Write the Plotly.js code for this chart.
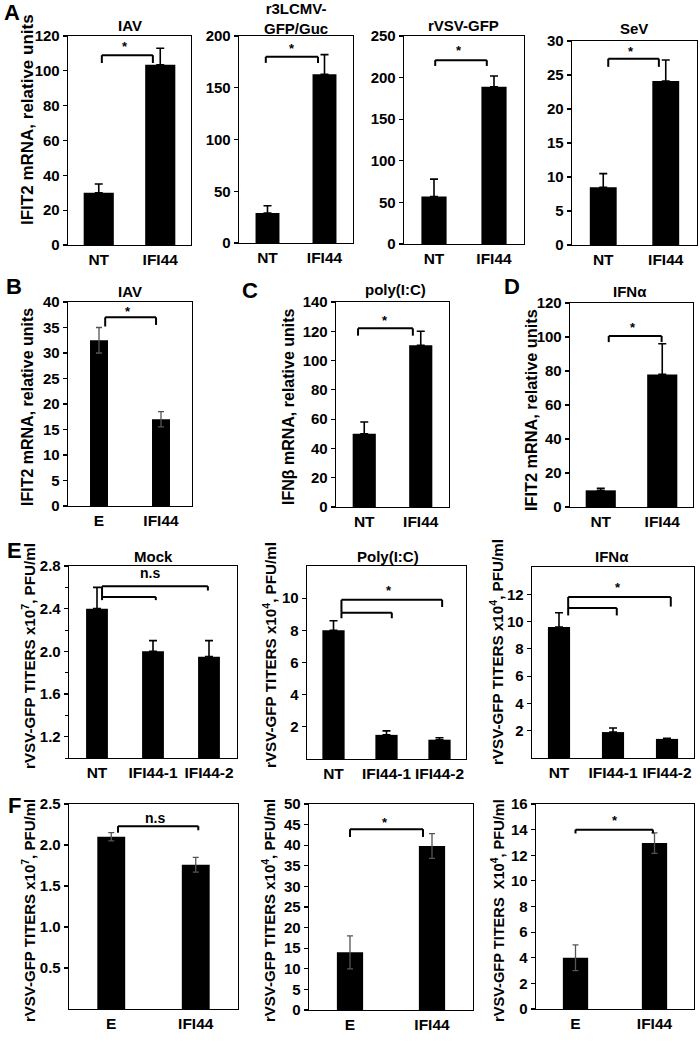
<!DOCTYPE html>
<html><head><meta charset="utf-8">
<script src="https://cdn.plot.ly/plotly-3.0.1.min.js"></script>
<style>html,body{margin:0;padding:0;background:#fff}#chart{width:700px;height:1063px}</style>
</head><body><div id="chart"></div>
<script>
const W = 700, H = 1063;
const FONT = 'Liberation Sans, Arial, Helvetica, sans-serif';

// ---- categories ----
const catsNT = ['NT', 'IFI44'];
const catsE = ['E', 'IFI44'];
const catsNT3 = ['NT', 'IFI44-1', 'IFI44-2'];

// ---- values (means) and error bars ----
const aIAV = [30, 103.5], aIAVErr = [5, 9.5];
const aLCMV = [29, 163], aLCMVErr = [7, 19];
const aVSV = [57, 189], aVSVErr = [21, 13];
const aSeV = [8.5, 24.1], aSeVErr = [2, 3.1];
const bIAV = [32.5, 17], bIAVErr = [2.5, 1.5];
const cPIC = [50, 110.5], cPICErr = [8, 9.5];
const dIFN = [9.8, 78], dIFNErr = [1.2, 18];
const eMock = [2.4, 2.0, 1.95], eMockErr = [0.2, 0.1, 0.15];
const ePIC = [8.0, 1.5, 1.2], ePICErr = [0.6, 0.25, 0.12];
const eIFN = [9.6, 1.9, 1.4], eIFNErr = [1.05, 0.3, 0.05];
const fMock = [2.1, 1.76], fMockErr = [0.05, 0.09];
const fPIC = [14, 39.8], fPICErr = [4, 3];
const fIFN = [4.0, 12.95], fIFNErr = [1, 0.8];

// ---- tick labels ----
const ticksE1 = [1.2, 1.6, 2.0, 2.4, 2.8], ticksE1Text = ['1.2', '1.6', '2.0', '2.4', '2.8'];
const ticksE2 = [2, 4, 6, 8, 10];
const ticksE3 = [2, 4, 6, 8, 10, 12];
const ticksF1 = [0.5, 1.0, 1.5, 2.0, 2.5], ticksF1Text = ['0.5', '1.0', '1.5', '2.0', '2.5'];

// ---- axis titles ----
const yT1 = 'IFIT2 mRNA, relative units';
const yTb = 'IFN\u03b2 mRNA, relative units';
const yT7 = 'rVSV-GFP TITERS x10<sup>7</sup>, PFU/ml';
const yT4 = 'rVSV-GFP TITERS x10<sup>4</sup>, PFU/ml';
const yT4b = 'rVSV-GFP TITERS  X10<sup>4</sup>, PFU/ml';

// ---- panel layout (pixel frames, title positions) ----
const panels = [
  {cats: catsNT, v: aIAV, e: aIAVErr, fr: [68,191,36,245], yr: [0,120], dt: 20, bw: 0.49, t: 'IAV', tp: [130,26], yt: yT1, ytp: [27,120], ys: 17,
   br: [[0.05,0.88,109,104.5,104.5]], sig: '*', sp: [0.43,114]},
  {cats: catsNT, v: aLCMV, e: aLCMVErr, fr: [239,353,36,243], yr: [0,200], dt: 50, bw: 0.42, t: 'r3LCMV-<br>GFP/Guc', tp: [296,19],
   br: [[-0.03,0.886,180,174,174]], sig: '*', sp: [0.43,188]},
  {cats: catsNT, v: aVSV, e: aVSVErr, fr: [404,524,36,244], yr: [0,250], dt: 50, bw: 0.42, t: 'rVSV-GFP', tp: [464,25],
   br: [[0.02,0.88,221,214,214]], sig: '*', sp: [0.42,232]},
  {cats: catsNT, v: aSeV, e: aSeVErr, fr: [572,697,41,245], yr: [0,30], dt: 5, bw: 0.43, t: 'SeV', tp: [634,29],
   br: [[0.08,0.89,27.4,26.2,26.2]], sig: '*', sp: [0.45,28.4]},
  {cats: catsE, v: bIAV, e: bIAVErr, fr: [68,192,302,506], yr: [0,40], dt: 5, bw: 0.29, t: 'IAV', tp: [130,291], yt: yT1, ytp: [27,407], ys: 16, sym: true,
   br: [[0.1,0.92,37,35.2,35.5]], sig: '*', sp: [0.47,38.2]},
  {cats: catsNT, v: cPIC, e: cPICErr, fr: [336,449,302,507], yr: [0,140], dt: 20, bw: 0.41, t: 'poly(I:C)', tp: [395,289], yt: yTb, ytp: [288,407], ys: 16,
   br: [[-0.11,0.86,122,117,117]], sig: '*', sp: [0.37,127.5]},
  {cats: catsNT, v: dIFN, e: dIFNErr, fr: [570,693,303,507], yr: [0,120], dt: 20, bw: 0.49, t: 'IFN\u03b1', tp: [630,291], yt: yT1, ytp: [531,410], ys: 16.3,
   br: [[0.13,0.99,100.6,97,97]], sig: '*', sp: [0.52,105.5]},
  {cats: catsNT3, v: eMock, e: eMockErr, fr: [69,237,566,758], yr: [1.0,2.8], tv: ticksE1, tt: ticksE1Text, minor: 0.2, bw: 0.39, t: 'Mock', tp: [153,556], yt: yT7, ytp: [28,656], ys: 15.2,
   br: [[0.09,1.98,2.61,2.51,2.57],[0.09,1.05,2.51,2.48,2.48]], sig: 'n.s', sp: [0.95,2.73]},
  {cats: catsNT3, v: ePIC, e: ePICErr, fr: [307,466,566,759], yr: [0,12], tv: ticksE2, bw: 0.42, t: 'Poly(I:C)', tp: [388,556], yt: yT4, ytp: [269,655], ys: 15.2,
   br: [[0.15,2.05,9.9,9.1,9.45],[0.15,1.1,9.1,8.75,8.75]], sig: '*', sp: [1.05,10.5]},
  {cats: catsNT3, v: eIFN, e: eIFNErr, fr: [532,694,567,758], yr: [0,14], tv: ticksE3, bw: 0.41, t: 'IFN\u03b1', tp: [612,556], yt: yT4, ytp: [496,652], ys: 15.2,
   br: [[0.17,2.07,11.8,11.0,11.1],[0.17,1.07,11.0,10.45,10.45]], sig: '*', sp: [1.09,12.5]},
  {cats: catsE, v: fMock, e: fMockErr, fr: [69,238,804,1009], yr: [0,2.5], tv: ticksF1, tt: ticksF1Text, bw: 0.33, yt: yT7, ytp: [28,911], ys: 15, sym: true,
   br: [[0.08,1.03,2.23,2.15,2.18]], sig: 'n.s', sp: [0.52,2.33]},
  {cats: catsE, v: fPIC, e: fPICErr, fr: [309,473,804,1010], yr: [0,50], dt: 5, bw: 0.32, yt: yT4, ytp: [268,911], ys: 15, sym: true,
   br: [[0.0,0.89,43.9,42,42]], sig: '*', sp: [0.43,45.6]},
  {cats: catsE, v: fIFN, e: fIFNErr, fr: [536,694,804,1009], yr: [0,16], dt: 2, bw: 0.32, yt: yT4b, ytp: [498,911], ys: 14.6, sym: true,
   br: [[0.0,0.98,14.0,13.7,13.7]], sig: '*', sp: [0.5,14.75]}
];

const letters = [['A',12,12],['B',14,286],['C',250,290],['D',512,286],['E',14,550],['F',14,805]];

const traces = [], shapes = [], annotations = [];
const layout = {
  width: W, height: H, margin: {l:0, r:0, t:0, b:0},
  paper_bgcolor: '#fff', plot_bgcolor: '#fff', showlegend: false,
  font: {family: FONT, color: '#000', size: 15, weight: 700}
};

panels.forEach((p, i) => {
  const n = i + 1;
  const xa = 'x' + n, ya = 'y' + n;
  const xk = 'xaxis' + n, yk = 'yaxis' + n;
  const [l, r, t, b] = p.fr;
  traces.push({
    type: 'bar', x: p.cats, y: p.v, xaxis: xa, yaxis: ya, width: p.bw,
    marker: {color: '#000', line: {width: 0}},
    error_y: p.sym
      ? {type: 'data', array: p.e, symmetric: true, color: '#555', thickness: 1.3, width: 3}
      : {type: 'data', array: p.e, arrayminus: p.e.map(() => 0), symmetric: false, color: '#000', thickness: 1.6, width: 4},
    hoverinfo: 'skip'
  });
  layout[xk] = {
    domain: [l / W, r / W], anchor: ya, type: 'category', range: [-0.5, p.cats.length - 0.5],
    showline: true, mirror: true, linecolor: '#000', linewidth: 1.3, ticks: '', showgrid: false, zeroline: false,
    tickfont: {family: FONT, size: 15.5, weight: 700}, fixedrange: true
  };
  const yax = {
    domain: [1 - b / H, 1 - t / H], anchor: xa, range: p.yr,
    showline: true, mirror: true, linecolor: '#000', linewidth: 1.3, ticks: 'outside', ticklen: 4, tickwidth: 1.2, tickcolor: '#000',
    showgrid: false, zeroline: false, tickfont: {family: FONT, size: 15, weight: 700}, fixedrange: true
  };
  if (p.tv) { yax.tickmode = 'array'; yax.tickvals = p.tv; if (p.tt) yax.ticktext = p.tt; }
  else { yax.tick0 = 0; yax.dtick = p.dt; }
  if (p.minor) yax.minor = {tick0: 1.0, dtick: p.minor, ticks: 'outside', ticklen: 3, tickcolor: '#000', tickwidth: 1};
  layout[yk] = yax;

  if (p.yt) annotations.push({xref: 'paper', yref: 'paper', x: p.ytp[0] / W, y: 1 - p.ytp[1] / H, text: p.yt,
    textangle: -90, showarrow: false, xanchor: 'center', yanchor: 'middle', font: {family: FONT, size: p.ys, weight: 700}});
  if (p.t) annotations.push({xref: 'paper', yref: 'paper', x: p.tp[0] / W, y: 1 - p.tp[1] / H, text: p.t,
    showarrow: false, xanchor: 'center', yanchor: 'middle', font: {family: FONT, size: 15, weight: 700}});
  p.br.forEach(bk => {
    const [x0, x1, yv, yl, yr] = bk;
    const ln = {color: '#000', width: 2};
    shapes.push({type: 'line', xref: xa, yref: ya, x0: x0, x1: x0, y0: yl, y1: yv, line: ln});
    shapes.push({type: 'line', xref: xa, yref: ya, x0: x0, x1: x1, y0: yv, y1: yv, line: ln});
    shapes.push({type: 'line', xref: xa, yref: ya, x0: x1, x1: x1, y0: yv, y1: yr, line: ln});
  });
  annotations.push({xref: xa, yref: ya, x: p.sp[0], y: p.sp[1], text: p.sig, showarrow: false,
    xanchor: 'center', yanchor: 'middle', font: {family: FONT, size: p.sig === '*' ? 13 : 14, weight: 700}});
});

letters.forEach(L => annotations.push({xref: 'paper', yref: 'paper', x: L[1] / W, y: 1 - L[2] / H, text: L[0],
  showarrow: false, xanchor: 'center', yanchor: 'middle', font: {family: FONT, size: 22, weight: 700}}));

layout.shapes = shapes;
layout.annotations = annotations;
Plotly.newPlot('chart', traces, layout, {staticPlot: true, displayModeBar: false});
</script></body></html>
